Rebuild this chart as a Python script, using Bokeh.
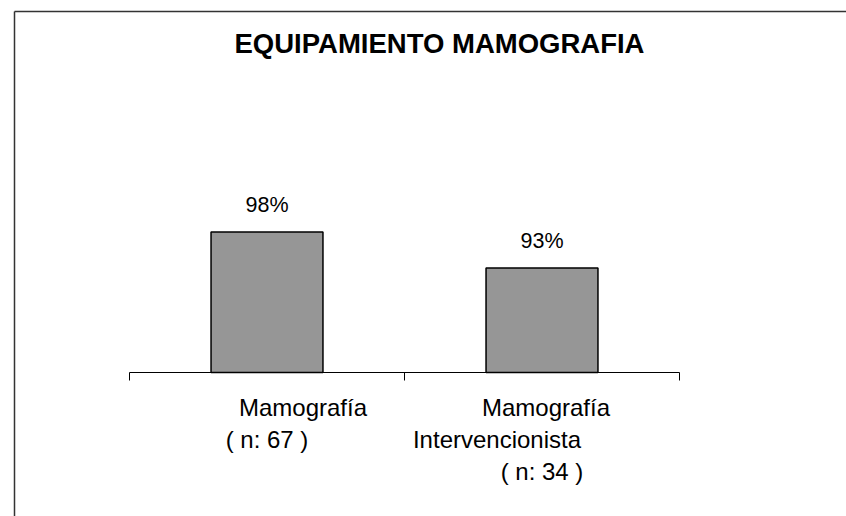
from bokeh.plotting import figure
from bokeh.models import ColumnDataSource, LabelSet, Label, Range1d, FixedTicker
from bokeh.core.properties import value
from bokeh.embed import file_html
from bokeh.resources import INLINE

# ---- data ----
title_text = "EQUIPAMIENTO MAMOGRAFIA"
categories = ["Mamografía", "Mamografía Intervencionista"]
label_lines = [["Mamografía", "( n: 67 )"],
               ["Mamografía", "Intervencionista", "( n: 34 )"]]
n_values = [67, 34]
percent = [98, 93]
value_labels = ["98%", "93%"]

# ---- styles / layout ----
FONT = "Liberation Sans"
line_x_offsets = [[36, 0], [4, -45, 0]]
BASE = 78.5                 # value at the category axis
W, H = 846, 516
PX_X = 275.0                # pixels per category
PX_Y = 7.2                  # pixels per percent
AX_LEFT, AX_Y = 129, 372    # where the category axis sits on the canvas

ncat = len(categories)
x_range = Range1d(-AX_LEFT / PX_X, ncat + (W - AX_LEFT - ncat * PX_X) / PX_X)
y_range = Range1d(BASE - (H - AX_Y) / PX_Y, BASE + AX_Y / PX_Y)

p = figure(width=W, height=H, output_backend="svg", toolbar_location=None,
           x_range=x_range, y_range=y_range,
           min_border_left=0, min_border_right=0,
           min_border_top=0, min_border_bottom=0)
p.outline_line_color = None
p.grid.visible = False
p.yaxis.visible = False
p.background_fill_color = "white"
p.border_fill_color = "white"

# outer chart border (left and top edges; the rest runs off the picture)
bx0 = (14 - AX_LEFT) / PX_X
by0 = BASE + (AX_Y - 11) / PX_Y
p.segment(x0=[bx0, bx0], y0=[by0, by0], x1=[bx0, ncat + 5], y1=[BASE - 100, by0],
          line_color="#333333", line_width=1.5)

xpos = [i + 0.5 for i in range(ncat)]

bars = ColumnDataSource(dict(x=xpos, top=percent, lab=value_labels))
p.vbar(x="x", top="top", bottom=BASE, width=0.407, source=bars,
       fill_color="#969696", line_color="black", line_width=1.5)

p.add_layout(LabelSet(x="x", y="top", text="lab", source=bars,
                      text_align="center", text_baseline="alphabetic",
                      y_offset=20, text_font=value(FONT),
                      text_font_size="21.5px", text_color="black"))

# category axis with boundary ticks (labels drawn separately below)
ax = p.xaxis[0]
ax.fixed_location = BASE
ax.bounds = (0, ncat)
ax.ticker = FixedTicker(ticks=list(range(ncat + 1)))
ax.major_label_overrides = {t: "" for t in range(ncat + 1)}
ax.major_tick_out = 8
ax.major_tick_in = 0
ax.minor_tick_out = 0
ax.minor_tick_in = 0
ax.axis_line_color = "black"
ax.major_tick_line_color = "black"

# category labels (multi-line)
cx, cy, ct, cxo, cyo = [], [], [], [], []
for i, lines in enumerate(label_lines):
    for j, t in enumerate(lines):
        cx.append(xpos[i])
        cy.append(BASE)
        ct.append(t)
        cxo.append(line_x_offsets[i][j])
        cyo.append(-(43 + 32 * j))
cat_src = ColumnDataSource(dict(x=cx, y=cy, text=ct, xo=cxo, yo=cyo))
p.add_layout(LabelSet(x="x", y="y", text="text", source=cat_src,
                      x_offset="xo", y_offset="yo",
                      text_align="center", text_baseline="alphabetic",
                      text_font=value(FONT), text_font_size="24px",
                      text_color="black"))

# title
p.add_layout(Label(x=(439 - AX_LEFT) / PX_X, y=BASE + (AX_Y - 43) / PX_Y,
                   text=title_text, text_align="center",
                   text_baseline="alphabetic", text_font=FONT,
                   text_font_size="27.5px", text_font_style="bold",
                   text_color="black"))

open("out.html", "w").write(file_html(p, INLINE))
